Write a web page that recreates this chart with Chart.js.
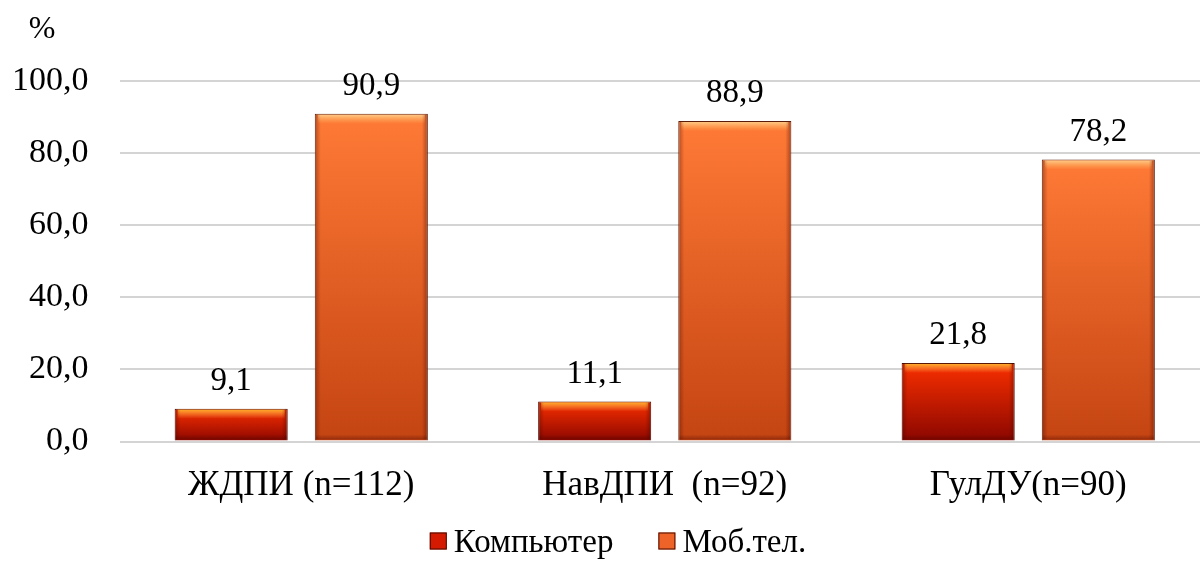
<!DOCTYPE html>
<html>
<head>
<meta charset="utf-8">
<script src="https://cdn.jsdelivr.net/npm/chart.js@4/dist/chart.umd.min.js"></script>
<style>
  html, body { margin: 0; padding: 0; background: #fff; overflow: hidden; }
  #wrap { width: 1200px; height: 570px; overflow: hidden; position: relative; }
  #chart { display: block; }
</style>
</head>
<body>
<div id="wrap"><canvas id="chart" width="1210" height="570"></canvas></div>
<script>
// chart data
const categories = ["ЖДПИ (n=112)", "НавДПИ  (n=92)", "ГулДУ(n=90)"];
const seriesNames = ["Компьютер", "Моб.тел."];
const computerValues = [9.1, 11.1, 21.8];
const phoneValues = [90.9, 88.9, 78.2];
const yTicks = [0, 20, 40, 60, 80, 100];
const unitLabel = "%";

const FONT = "'Liberation Serif', 'Times New Roman', serif";
const legendColors = ["#d41a00", "#ee6428"];

// comma decimal, like the original
const fmt = v => v.toFixed(1).replace(".", ",");

// vertical gradient for each bar, from its top down to the axis
function barGradient(top, bottom) {
    return (context) => {
        let chart = context.chart;
        if (!chart.chartArea || context.type !== "data") return bottom;
        let yScale = chart.scales.y;
        let yTop = yScale.getPixelForValue(context.raw);
        let yBase = yScale.getPixelForValue(0);
        let g = chart.ctx.createLinearGradient(0, yTop, 0, yBase);
        g.addColorStop(0, top);
        g.addColorStop(1, bottom);
        return g;
    };
}

// light bevel on top edge + darker sides and bottom
const bevelPlugin = {
    id: "bevel",
    afterDatasetsDraw(chart) {
        let ctx = chart.ctx;
        let highlights = ["rgba(255,190,40,0.95)", "rgba(255,215,150,0.95)"];
        chart.data.datasets.forEach((ds, i) => {
            chart.getDatasetMeta(i).data.forEach(bar => {
                let left = bar.x - bar.width / 2;
                let top = bar.y;
                let h = bar.base - bar.y;
                ctx.save();
                let g = ctx.createLinearGradient(0, top, 0, top + 10);
                g.addColorStop(0, highlights[i]);
                g.addColorStop(1, "rgba(255,190,100,0)");
                ctx.fillStyle = g;
                ctx.fillRect(left + 3, top + 1, bar.width - 6, Math.min(10, h - 2));
                let s = ctx.createLinearGradient(left, 0, left + 6, 0);
                s.addColorStop(0, "rgba(70,5,0,0.4)");
                s.addColorStop(1, "rgba(70,5,0,0)");
                ctx.fillStyle = s;
                ctx.fillRect(left + 1, top + 1, 6, h - 2);
                let s2 = ctx.createLinearGradient(left + bar.width, 0, left + bar.width - 6, 0);
                s2.addColorStop(0, "rgba(70,5,0,0.45)");
                s2.addColorStop(1, "rgba(70,5,0,0)");
                ctx.fillStyle = s2;
                ctx.fillRect(left + bar.width - 7, top + 1, 6, h - 2);
                let b = ctx.createLinearGradient(0, bar.base, 0, bar.base - 6);
                b.addColorStop(0, "rgba(70,5,0,0.45)");
                b.addColorStop(1, "rgba(70,5,0,0)");
                ctx.fillStyle = b;
                ctx.fillRect(left + 1, bar.base - 7, bar.width - 2, 6);
                ctx.restore();
            });
        });
    }
};

// value labels above bars
const valueLabels = {
    id: "valueLabels",
    afterDatasetsDraw(chart) {
        let ctx = chart.ctx;
        ctx.save();
        ctx.font = "33px " + FONT;
        ctx.fillStyle = "#000";
        ctx.textAlign = "center";
        ctx.textBaseline = "bottom";
        chart.data.datasets.forEach((ds, i) => {
            chart.getDatasetMeta(i).data.forEach((bar, j) => {
                ctx.fillText(fmt(ds.data[j]), bar.x, bar.y - 11);
            });
        });
        ctx.restore();
    }
};

// "%" unit label and the legend row at the bottom
const extrasPlugin = {
    id: "extras",
    afterDraw(chart) {
        let ctx = chart.ctx;
        ctx.save();
        ctx.font = "32px " + FONT;
        ctx.fillStyle = "#000";
        ctx.textAlign = "center";
        ctx.textBaseline = "middle";
        ctx.fillText(unitLabel, 42, 30);

        // legend
        ctx.font = "33px " + FONT;
        ctx.textAlign = "left";
        let box = 17, gap = 7, spacing = 45, y = 543;
        let widths = seriesNames.map(n => ctx.measureText(n).width);
        let total = widths.reduce((a, w) => a + box + gap + w, 0) + spacing;
        let x = 618 - total / 2;
        seriesNames.forEach((name, i) => {
            ctx.fillStyle = legendColors[i];
            ctx.fillRect(x, y - box / 2 - 2, box, box);
            ctx.strokeStyle = "#4a0a00";
            ctx.lineWidth = 1;
            ctx.strokeRect(x + 0.5, y - box / 2 - 1.5, box - 1, box - 1);
            ctx.fillStyle = "#000";
            ctx.fillText(name, x + box + gap, y);
            x += box + gap + widths[i] + spacing;
        });
        ctx.restore();
    }
};

new Chart(document.getElementById("chart"), {
    type: "bar",
    data: {
        labels: categories,
        datasets: [{
            label: seriesNames[0],
            data: computerValues,
            backgroundColor: barGradient("#fa3000", "#8a0600"),
            borderColor: "#4a0a00",
            borderWidth: 1,
            categoryPercentage: 0.771,
            barPercentage: 0.807
        }, {
            label: seriesNames[1],
            data: phoneValues,
            backgroundColor: barGradient("#ff7a36", "#c44412"),
            borderColor: "#5a1e08",
            borderWidth: 1,
            categoryPercentage: 0.771,
            barPercentage: 0.807
        }]
    },
    options: {
        responsive: false,
        animation: false,
        layout: { padding: { top: 81, left: 0, right: 0, bottom: 0 } },
        plugins: {
            tooltip: { enabled: false },
            legend: { display: false }
        },
        scales: {
            x: {
                grid: { display: false },
                border: { display: false },
                ticks: {
                    font: { family: FONT, size: 35 },
                    color: "#000",
                    padding: 15,
                    maxRotation: 0
                },
                afterFit(scale) { scale.height = 570 - 441.5; }
            },
            y: {
                min: 0,
                max: 100,
                afterBuildTicks(scale) { scale.ticks = yTicks.map(v => ({ value: v })); },
                grid: { color: "#d4d4d4", lineWidth: 2, drawTicks: false },
                border: { display: false },
                ticks: {
                    font: { family: FONT, size: 34 },
                    color: "#000",
                    padding: 31,
                    callback: v => fmt(v)
                },
                afterFit(scale) { scale.width = 119.5; }
            }
        }
    },
    plugins: [bevelPlugin, valueLabels, extrasPlugin]
});
</script>
</body>
</html>
